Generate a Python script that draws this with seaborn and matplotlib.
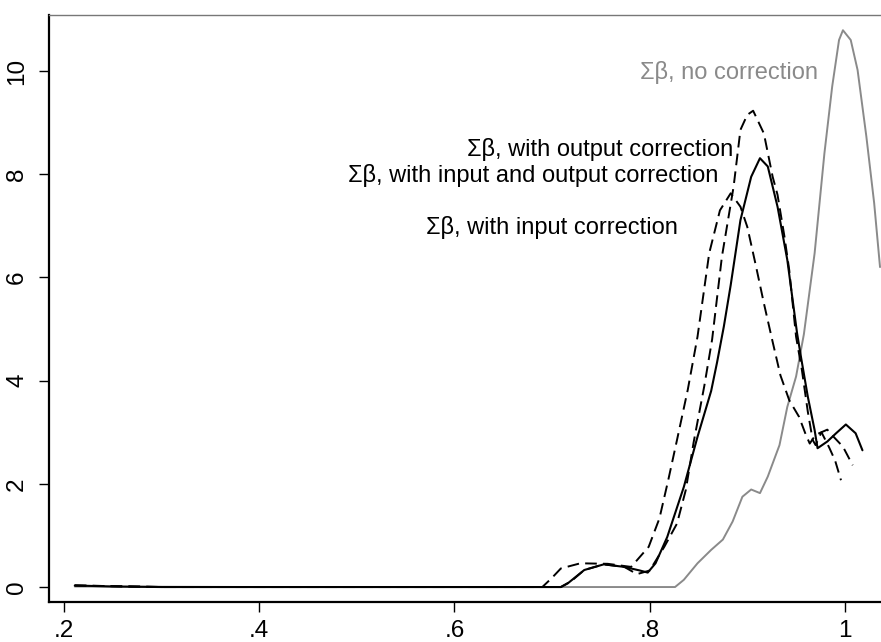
import matplotlib
matplotlib.use("Agg")
import matplotlib.pyplot as plt
import seaborn as sns

# Kernel density estimates of the summed coefficients (Σβ)
no_corr_x = [0.211, 0.40, 0.60, 0.80, 0.826, 0.835, 0.849, 0.863, 0.875, 0.885, 0.895,
             0.904, 0.913, 0.921, 0.933, 0.941, 0.950, 0.958, 0.969, 0.979, 0.987,
             0.994, 0.998, 1.006, 1.013, 1.022, 1.030, 1.036]
no_corr_y = [0.01, 0.0, 0.0, 0.0, 0.0, 0.14, 0.46, 0.72, 0.92, 1.27, 1.75,
             1.89, 1.82, 2.14, 2.75, 3.49, 4.08, 4.90, 6.47, 8.40, 9.70,
             10.6, 10.79, 10.6, 10.02, 8.73, 7.44, 6.20]

in_out_x = [0.211, 0.25, 0.30, 0.40, 0.50, 0.60, 0.70, 0.709, 0.716, 0.733, 0.753,
            0.774, 0.790, 0.798, 0.806, 0.818, 0.835, 0.849, 0.863, 0.869, 0.876,
            0.883, 0.893, 0.904, 0.913, 0.921, 0.931, 0.941, 0.951, 0.955, 0.962,
            0.969, 0.972, 0.982, 0.991, 1.001, 1.011, 1.018]
in_out_y = [0.03, 0.01, 0.0, 0.0, 0.0, 0.0, 0.0, 0.0, 0.07, 0.33, 0.44,
            0.39, 0.32, 0.28, 0.46, 0.97, 1.94, 2.91, 3.80, 4.35, 5.05,
            5.85, 7.11, 7.95, 8.31, 8.15, 7.37, 6.34, 4.92, 4.46, 3.69,
            3.04, 2.69, 2.82, 2.98, 3.15, 2.98, 2.65]

out_x = [0.211, 0.30, 0.50, 0.70, 0.709, 0.720, 0.733, 0.753, 0.774, 0.787, 0.800,
         0.815, 0.828, 0.837, 0.845, 0.856, 0.864, 0.874, 0.886, 0.893, 0.900,
         0.906, 0.917, 0.926, 0.931, 0.938, 0.943, 0.950, 0.956, 0.962, 0.967,
         0.970, 0.976, 0.982, 0.988, 0.998, 1.008]
out_y = [0.03, 0.0, 0.0, 0.0, 0.0, 0.12, 0.33, 0.44, 0.39, 0.25, 0.32,
         0.78, 1.23, 1.88, 2.80, 3.90, 4.80, 6.40, 7.76, 8.86, 9.15,
         9.23, 8.79, 7.95, 7.60, 6.80, 6.14, 4.85, 4.20, 3.40, 2.85,
         2.75, 3.00, 3.05, 2.92, 2.72, 2.36]

in_x = [0.211, 0.30, 0.50, 0.690, 0.700, 0.709, 0.729, 0.757, 0.781, 0.787, 0.799,
        0.810, 0.819, 0.828, 0.839, 0.849, 0.861, 0.872, 0.883, 0.893, 0.900,
        0.909, 0.917, 0.926, 0.934, 0.943, 0.953, 0.960, 0.964, 0.970, 0.976,
        0.984, 0.990, 0.996]
in_y = [0.03, 0.0, 0.0, 0.0, 0.18, 0.36, 0.46, 0.45, 0.39, 0.52, 0.78,
        1.33, 2.07, 2.85, 3.82, 4.85, 6.47, 7.30, 7.63, 7.37, 6.98,
        6.21, 5.50, 4.75, 4.10, 3.62, 3.30, 2.95, 2.78, 2.95, 3.00,
        2.70, 2.45, 2.07]

labels = ["Σβ, no correction", "Σβ, with output correction",
          "Σβ, with input and output correction", "Σβ, with input correction"]
x_ticks = [0.2, 0.4, 0.6, 0.8, 1.0]
x_tick_labels = [".2", ".4", ".6", ".8", "1"]
y_ticks = [0, 2, 4, 6, 8, 10]

sns.set_theme(style="white")
plt.rcParams["font.family"] = ["Liberation Sans", "DejaVu Sans"]

fig = plt.figure(figsize=(8.81, 6.42), dpi=100)
ax = fig.add_axes([49 / 881, 40 / 642, 1 - 49 / 881, 587 / 642])

GRAY = "#8a8a8a"
DASH = (0, (6, 3.2))

sns.lineplot(x=no_corr_x, y=no_corr_y, ax=ax, color=GRAY, linewidth=1.4,
             sort=False, estimator=None)
sns.lineplot(x=in_out_x, y=in_out_y, ax=ax, color="black", linewidth=1.5,
             sort=False, estimator=None)
sns.lineplot(x=out_x, y=out_y, ax=ax, color="black", linewidth=1.4,
             linestyle=DASH, sort=False, estimator=None)
sns.lineplot(x=in_x, y=in_y, ax=ax, color="black", linewidth=1.4,
             linestyle=DASH, sort=False, estimator=None)

# Curve labels
ax.text(0.972, 9.98, labels[0], color=GRAY, fontsize=17, ha="right", va="center")
ax.text(0.886, 8.47, labels[1], color="black", fontsize=17, ha="right", va="center")
ax.text(0.870, 7.97, labels[2], color="black", fontsize=17, ha="right", va="center")
ax.text(0.829, 6.96, labels[3], color="black", fontsize=17, ha="right", va="center")

ax.set_xlim(0.1846, 1.037)
ax.set_ylim(-0.29, 11.085)
ax.set_xticks(x_ticks)
ax.set_xticklabels(x_tick_labels)
ax.set_yticks(y_ticks)
ax.set_yticklabels([str(v) for v in y_ticks])
ax.set_xlabel("")
ax.set_ylabel("")

ax.tick_params(axis="both", which="major", direction="out", length=7, width=1.0,
               color="black", labelsize=17.5, labelcolor="black", bottom=True, left=True)
ax.tick_params(axis="x", pad=6)
ax.tick_params(axis="y", pad=8, labelrotation=90)
for lab in ax.get_yticklabels():
    lab.set_va("center")

for side in ("left", "bottom"):
    ax.spines[side].set_color("black")
    ax.spines[side].set_linewidth(1.6)
ax.spines["top"].set_color("#777777")
ax.spines["top"].set_linewidth(1.0)
ax.spines["right"].set_visible(False)
ax.grid(False)

fig.savefig("out.png", dpi=100, facecolor="white")
